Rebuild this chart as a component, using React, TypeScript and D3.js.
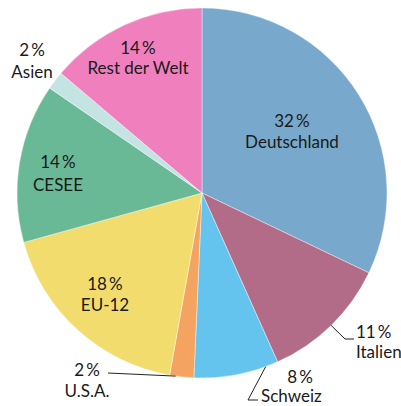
import React from "react";
import * as d3 from "d3";

const categories = ["Deutschland", "Italien", "Schweiz", "U.S.A.", "EU-12", "CESEE", "Asien", "Rest der Welt"];
const values = [32.1, 11.2, 7.4, 2.1, 17.9, 13.9, 1.6, 13.8];
const percentLabels = ["32\u2009%", "11\u2009%", "8\u2009%", "2\u2009%", "18\u2009%", "14\u2009%", "2\u2009%", "14\u2009%"];
const colors = ["#78a8cb", "#b36c88", "#64c4ee", "#f4a460", "#f2dc6e", "#69b896", "#c4e4e3", "#f080bd"];

const W = 401;
const H = 406;
const cx = 202;
const cy = 193;
const R = 185;

type LabelLayout = {
  x: number;
  y: number;
  anchor: "start" | "middle" | "end";
  x2?: number;
  leader?: [number, number][];
};
const labelLayout: LabelLayout[] = [
  { x: 292, y: 127, anchor: "middle" },
  { x: 356, y: 338, anchor: "start", leader: [[345, 339], [354, 339]] },
  { x: 300, y: 383, anchor: "middle", x2: 261, leader: [[248, 400], [258, 400]] },
  { x: 87, y: 376, anchor: "middle", leader: [[108, 373]] },
  { x: 105, y: 290, anchor: "middle" },
  { x: 58, y: 168, anchor: "middle" },
  { x: 32, y: 56, anchor: "middle" },
  { x: 138, y: 54, anchor: "middle" },
];
const secondLineDy = [21, 20, 19, 21, 21, 23, 22, 20];
const leaderAngleFrac = [0, 0.5, 0.15, 0.75, 0, 0, 0, 0];

export default function App() {
  const pie = d3
    .pie<number>()
    .sort(null)
    .startAngle(0)
    .endAngle(2 * Math.PI)
    .value((d) => d);
  const arcs = pie(values);
  const arc = d3.arc<d3.PieArcDatum<number>>().innerRadius(0).outerRadius(R);

  return (
    <svg
      width={W}
      height={H}
      style={{ position: "absolute", left: 0, top: 0, background: "#fff" }}
      fontFamily="Lato, 'Open Sans', sans-serif"
      fontSize={17}
    >
      <g transform={`translate(${cx},${cy})`}>
        {arcs.map((a, i) => (
          <path key={i} d={arc(a) || ""} fill={colors[i]} stroke="#fff" strokeWidth={0.4} />
        ))}
      </g>
      {arcs.map((a, i) => {
        const L = labelLayout[i];
        if (!L.leader) return null;
        const ang = a.startAngle + (a.endAngle - a.startAngle) * leaderAngleFrac[i];
        const ex = cx + R * Math.sin(ang);
        const ey = cy - R * Math.cos(ang);
        const pts: [number, number][] = [[ex, ey], ...L.leader];
        return (
          <polyline
            key={"l" + i}
            points={pts.map((p) => p.join(",")).join(" ")}
            fill="none"
            stroke="#222"
            strokeWidth={1}
          />
        );
      })}
      {categories.map((c, i) => {
        const L = labelLayout[i];
        return (
          <g key={"t" + i} fill="#1a1a1a">
            <text x={L.x} y={L.y} textAnchor={L.anchor}>
              {percentLabels[i]}
            </text>
            <text
              x={L.x2 !== undefined ? L.x2 : L.x}
              y={L.y + secondLineDy[i]}
              textAnchor={L.x2 !== undefined ? "start" : L.anchor}
            >
              {c}
            </text>
          </g>
        );
      })}
    </svg>
  );
}
